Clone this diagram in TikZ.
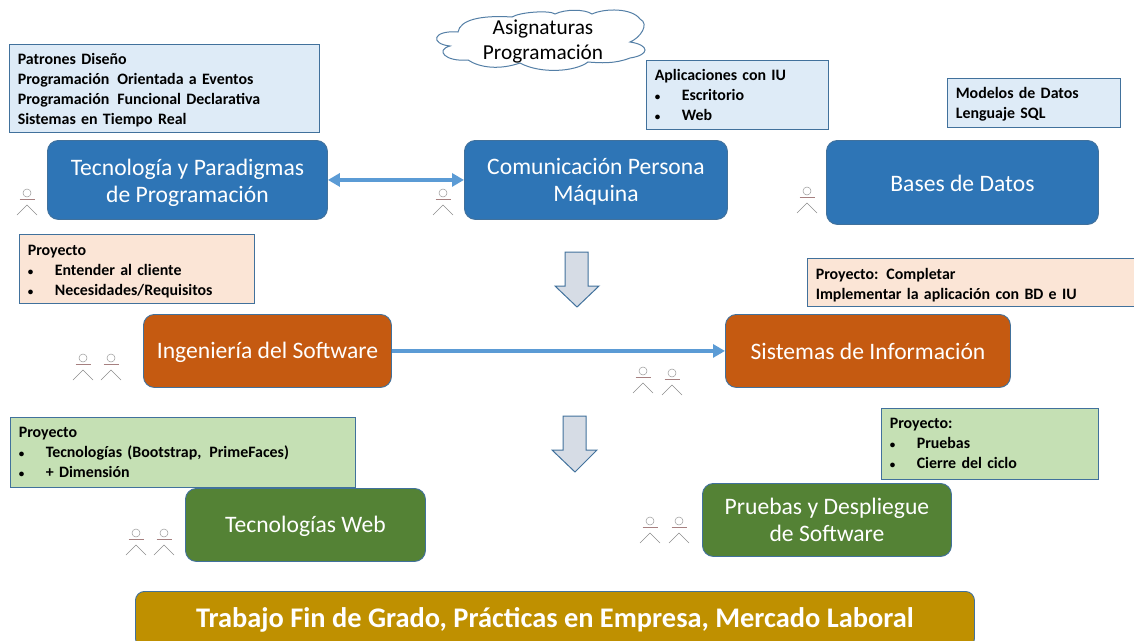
\documentclass[tikz,border=0pt]{standalone}
\usepackage{fontspec}
\setmainfont{Carlito}
\usetikzlibrary{arrows.meta}
\definecolor{mblue}{HTML}{2E75B6}
\definecolor{morange}{HTML}{C55A11}
\definecolor{mgreen}{HTML}{548235}
\definecolor{mgold}{HTML}{BF9000}
\definecolor{lblue}{HTML}{DEEBF7}
\definecolor{lpeach}{HTML}{FBE5D6}
\definecolor{lgreen}{HTML}{C5E0B4}
\definecolor{edgeb}{HTML}{41719C}
\definecolor{arrowb}{HTML}{5B9BD5}
\definecolor{darrow}{HTML}{D6DCE5}
\newcommand{\bl}[1]{\makebox[27pt][l]{\fontsize{11}{11}\selectfont •}#1}
\newcommand{\dn}[1]{\rule{0pt}{#1pt}}
\tikzset{
  x=1pt,y=-1pt,
  mainbox/.style={draw=edgeb,line width=0.9pt,rounded corners=11pt,text=white,align=center,anchor=north west,inner sep=0pt,font=\fontsize{23.6}{27.5}\selectfont},
  infobox/.style={draw=edgeb,line width=0.6pt,anchor=north west,inner xsep=8.5pt,inner ysep=0pt,align=left,font=\fontsize{15.9}{20}\selectfont\bfseries},
  bigarrow/.style={-{Triangle[length=12pt,width=13pt]},draw=arrowb,line width=3.6pt},
  bothways/.style={{Triangle[length=12pt,width=13pt]}-{Triangle[length=12pt,width=13pt]},draw=arrowb,line width=3.6pt},
  downarrow/.style={draw=edgeb,fill=darrow,line width=1pt,line join=miter},
  actor/.pic={
    \draw[draw=black!40,line width=0.5pt,fill=white] (0,-6) circle (4);
    \draw[draw=red!30!black!50,line width=0.9pt] (-7.5,0) -- (7.5,0);
    \draw[draw=black!45,line width=0.45pt] (-10,16) -- (0,6) -- (10,16);
  }
}
\begin{document}
\begin{tikzpicture}
\useasboundingbox (0,0) rectangle (1134,640);
% cloud
\draw[edgeb!90,line width=1pt,fill=white]
  (458,32) .. controls (460,20) and (480,15) .. (512,17)
  .. controls (520,12) and (550,10) .. (555,14)
  .. controls (565,9) and (585,9) .. (592,14)
  .. controls (605,8) and (632,8) .. (640,19)
  .. controls (650,24) and (640,38) .. (630,42)
  .. controls (650,45) and (650,55) .. (630,58)
  .. controls (615,64) and (600,63) .. (588,62)
  .. controls (575,72) and (540,74) .. (520,63)
  .. controls (500,70) and (480,68) .. (468,60)
  .. controls (445,62) and (435,50) .. (450,46)
  .. controls (430,44) and (432,30) .. (458,32) -- cycle;
\node[inner sep=0pt,align=center,font=\fontsize{21.3}{25}\selectfont] (cloudt) at (543,42) {Asignaturas\\Programación};
% info boxes
\node[infobox,fill=lblue,text width=293pt,minimum height=88pt] (i1) at (9,44) {\dn{14}Patrones Diseño\\Programación\, Orientada a Eventos\\Programación\, Funcional Declarativa\\Sistemas en Tiempo Real};
\node[infobox,fill=lblue,text width=165pt,minimum height=69pt] (i2) at (646,60) {Aplicaciones con IU\\\bl{Escritorio}\\\bl{Web}};
\node[infobox,fill=lblue,text width=156pt,minimum height=49pt] (i3) at (947,78) {\dn{14}Modelos de Datos\\Lenguaje SQL};
\node[infobox,fill=lpeach,text width=218pt,minimum height=69pt] (p1) at (19,234) {\dn{16}Proyecto\\\bl{Entender al cliente}\\\bl{Necesidades/Requisitos}};
\node[infobox,fill=lpeach,text width=320pt,minimum height=48pt] (p2) at (807,258) {\dn{16}Proyecto: Completar\\Implementar la aplicación con BD e IU};
\node[infobox,fill=lgreen,text width=328pt,minimum height=70pt] (g1) at (10,417) {Proyecto\\\bl{Tecnologías (Bootstrap,\, PrimeFaces)}\\\bl{+ Dimensión}};
\node[infobox,fill=lgreen,text width=200pt,minimum height=71pt] (g2) at (881,408) {Proyecto:\\\bl{Pruebas}\\\bl{Cierre del ciclo}};
% main boxes
\node[mainbox,fill=mblue,minimum width=280pt,minimum height=79pt] (tec) at (47,140) {\dn{22}Tecnología y Paradigmas\\de Programación};
\node[mainbox,fill=mblue,minimum width=263pt,minimum height=79pt] (com) at (464,140) {\dn{20}Comunicación Persona\\Máquina};
\node[mainbox,fill=mblue,minimum width=272pt,minimum height=84pt] (bd) at (826,140) {\dn{19}Bases de Datos};
\node[mainbox,fill=morange,minimum width=248pt,minimum height=73pt] (ing) at (143,314) {\dn{19}Ingeniería del Software};
\node[mainbox,fill=morange,minimum width=285pt,minimum height=73pt] (sis) at (725,314) {Sistemas de Información};
\node[mainbox,fill=mgreen,minimum width=240pt,minimum height=73pt] (web) at (185,488) {\dn{20}Tecnologías Web};
\node[mainbox,fill=mgreen,minimum width=249pt,minimum height=73pt] (pru) at (702,483) {Pruebas y Despliegue\\de Software};
\node[mainbox,fill=mgold,minimum width=839pt,minimum height=56pt,rounded corners=9pt,font=\fontsize{28.4}{32}\selectfont\bfseries] (tfg) at (135,591) {Trabajo Fin de Grado, Prácticas en Empresa, Mercado Laboral};
% connectors
\draw[bothways] (tec.east) -- (com.west);
\draw[bigarrow] (ing.east) -- (sis.west);
% block arrows
\draw[downarrow] (565,252) -- (588,252) -- (588,286) -- (599,286) -- (577,307) -- (555,286) -- (565,286) -- cycle;
\draw[downarrow] (563,416) -- (586,416) -- (586,450) -- (597,450) -- (575,472) -- (552,450) -- (563,450) -- cycle;
% actors
\pic at (27,199) {actor};
\pic at (443,199) {actor};
\pic at (807,197) {actor};
\pic at (83,364) {actor};
\pic at (111,364) {actor};
\pic at (643,377) {actor};
\pic at (672,379) {actor};
\pic at (136,539) {actor};
\pic at (164,539) {actor};
\pic at (650,527) {actor};
\pic at (679,527) {actor};
\end{tikzpicture}
\end{document}
